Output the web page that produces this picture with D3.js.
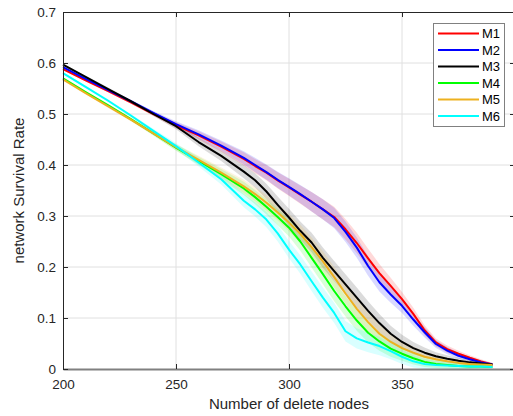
<!DOCTYPE html>
<html>
<head>
<meta charset="utf-8">
<script src="https://cdn.jsdelivr.net/npm/d3@7"></script>
<style>
  html, body { margin: 0; padding: 0; background: #fff; }
  svg { display: block; font-family: "Liberation Sans", Arial, Helvetica, sans-serif; }
</style>
</head>
<body>
<svg id="chart" width="513" height="416"></svg>
<script>
// ---------------- data ----------------
const nodes = [200,210,220,230,240,250,260,270,280,285,290,295,300,305,310,315,320,325,330,335,340,345,350,355,360,365,370,375,380,385,390];

const M1 = [0.588,0.566,0.545,0.523,0.500,0.478,0.458,0.436,0.412,0.398,0.385,0.370,0.356,0.342,0.328,0.313,0.298,0.274,0.247,0.217,0.188,0.163,0.137,0.108,0.076,0.052,0.039,0.030,0.022,0.015,0.009];
const M2 = [0.592,0.569,0.547,0.525,0.502,0.480,0.460,0.438,0.414,0.400,0.386,0.371,0.357,0.343,0.328,0.313,0.296,0.269,0.238,0.202,0.170,0.146,0.124,0.097,0.072,0.049,0.036,0.026,0.019,0.013,0.009];
const M3 = [0.597,0.573,0.549,0.525,0.500,0.476,0.445,0.418,0.387,0.370,0.348,0.322,0.297,0.271,0.248,0.218,0.192,0.166,0.140,0.114,0.090,0.069,0.053,0.041,0.032,0.025,0.020,0.016,0.013,0.011,0.009];
const M4 = [0.570,0.543,0.517,0.490,0.462,0.434,0.408,0.382,0.354,0.337,0.318,0.298,0.277,0.250,0.218,0.186,0.153,0.123,0.095,0.071,0.054,0.040,0.030,0.021,0.014,0.010,0.008,0.006,0.005,0.005,0.004];
const M5 = [0.568,0.541,0.515,0.489,0.462,0.435,0.410,0.385,0.358,0.343,0.326,0.307,0.287,0.265,0.239,0.211,0.180,0.148,0.118,0.092,0.069,0.053,0.041,0.032,0.024,0.019,0.015,0.012,0.010,0.009,0.008];
const M6 = [0.580,0.553,0.526,0.497,0.467,0.437,0.405,0.372,0.330,0.313,0.293,0.266,0.234,0.205,0.172,0.140,0.110,0.074,0.060,0.052,0.045,0.035,0.024,0.015,0.010,0.008,0.007,0.006,0.005,0.005,0.004];

// half-width of the shaded band around each curve
const spread = [0.002,0.002,0.003,0.003,0.004,0.006,0.008,0.010,0.013,0.014,0.015,0.016,0.017,0.018,0.019,0.020,0.020,0.020,0.020,0.019,0.018,0.016,0.014,0.012,0.010,0.008,0.007,0.006,0.005,0.004,0.003];

const seriesNames = ["M1","M2","M3","M4","M5","M6"];
const seriesColors = ["#ff0000","#0000ff","#000000","#00ff00","#edb120","#00ffff"];
const seriesValues = [M1,M2,M3,M4,M5,M6];

const xTicks = [200,250,300,350,400];
const xTickLabels = ["200","250","300","350",""];
const yTicks = [0,0.1,0.2,0.3,0.4,0.5,0.6,0.7];
const yTickLabels = ["0","0.1","0.2","0.3","0.4","0.5","0.6","0.7"];

// ---------------- layout ----------------
const svg = d3.select("#chart");
const L = 63, T = 12, R = 515, B = 369;
const x = d3.scaleLinear().domain([200,400]).range([L,R]);
const y = d3.scaleLinear().domain([0,0.7]).range([B,T]);
const axisColor = "#262626";

// grid
const grid = svg.append("g");
grid.selectAll("line.gy").data(yTicks.slice(1,-1)).enter().append("line")
  .attr("x1", L).attr("x2", R).attr("y1", d => y(d)).attr("y2", d => y(d))
  .attr("stroke", "#e0e0e0").attr("stroke-width", 1);
grid.selectAll("line.gx").data(xTicks.slice(1,-1)).enter().append("line")
  .attr("y1", T).attr("y2", B).attr("x1", d => x(d)).attr("x2", d => x(d))
  .attr("stroke", "#e0e0e0").attr("stroke-width", 1);

// bands
const area = d3.area()
  .x((d,i) => x(nodes[i]))
  .y0((d,i) => y(Math.max(0, d - spread[i])))
  .y1((d,i) => y(d + spread[i]));
seriesValues.forEach((vals, k) => {
  svg.append("path").datum(vals)
    .attr("d", area)
    .attr("fill", seriesColors[k])
    .attr("fill-opacity", k === 2 ? 0.14 : 0.15)
    .attr("stroke", "none");
});

// lines
const line = d3.line().x((d,i) => x(nodes[i])).y(d => y(d));
seriesValues.forEach((vals, k) => {
  svg.append("path").datum(vals)
    .attr("d", line)
    .attr("fill", "none")
    .attr("stroke", seriesColors[k])
    .attr("stroke-width", 2)
    .attr("stroke-linejoin", "round");
});

// axes
const fmtX = (d) => xTickLabels[xTicks.indexOf(d)];
const fmtY = (d) => yTickLabels[yTicks.findIndex(v => Math.abs(v-d) < 1e-9)];

const axB = svg.append("g").attr("transform", `translate(0,${B})`)
  .call(d3.axisBottom(x).tickValues(xTicks).tickFormat(fmtX).tickSizeInner(-5).tickSizeOuter(0).tickPadding(10));
const axT = svg.append("g").attr("transform", `translate(0,${T})`)
  .call(d3.axisTop(x).tickValues(xTicks).tickFormat("").tickSizeInner(-5).tickSizeOuter(0));
const axL = svg.append("g").attr("transform", `translate(${L},0)`)
  .call(d3.axisLeft(y).tickValues(yTicks).tickFormat(fmtY).tickSizeInner(-5).tickSizeOuter(0).tickPadding(7));
const axR = svg.append("g").attr("transform", `translate(${R},0)`)
  .call(d3.axisRight(y).tickValues(yTicks).tickFormat("").tickSizeInner(-5).tickSizeOuter(0));

[axB, axT, axL, axR].forEach(a => {
  a.selectAll("path.domain").attr("stroke", axisColor).attr("stroke-width", 1);
  a.selectAll(".tick line").attr("stroke", axisColor);
  a.selectAll(".tick text").attr("fill", axisColor).attr("font-size", 13.5)
    .attr("font-family", "Liberation Sans, Arial, sans-serif");
});
axB.select("path.domain").attr("stroke", "#808080").attr("stroke-width", 2);

// axis titles
svg.append("text")
  .attr("x", x(300)).attr("y", 409)
  .attr("text-anchor", "middle").attr("font-size", 15).attr("fill", axisColor)
  .text("Number of delete nodes");
svg.append("text")
  .attr("transform", `translate(24,${(T+B)/2}) rotate(-90)`)
  .attr("text-anchor", "middle").attr("font-size", 15).attr("fill", axisColor)
  .text("network Survival Rate");

// legend
const lg = svg.append("g");
lg.append("rect").attr("x", 433.5).attr("y", 23.5).attr("width", 71).attr("height", 103)
  .attr("fill", "#fff").attr("stroke", "#808080").attr("stroke-width", 1);
seriesNames.forEach((name, k) => {
  const yy = 33.5 + k * 16.5;
  lg.append("line").attr("x1", 438).attr("x2", 479).attr("y1", yy).attr("y2", yy)
    .attr("stroke", seriesColors[k]).attr("stroke-width", 2);
  lg.append("text").attr("x", 482).attr("y", yy + 4.5).attr("font-size", 13)
    .attr("fill", "#000").text(name);
});
</script>
</body>
</html>
